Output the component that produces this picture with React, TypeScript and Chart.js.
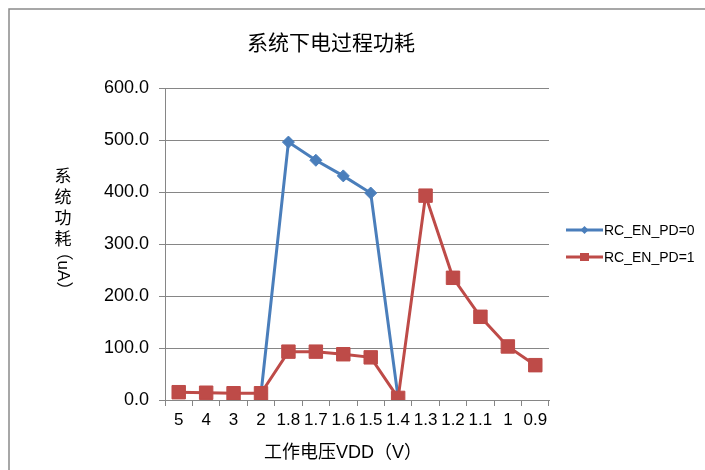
import React, { useEffect, useRef } from "react";
import { Chart, registerables } from "chart.js";

Chart.register(...registerables);

const categories = ["5", "4", "3", "2", "1.8", "1.7", "1.6", "1.5", "1.4", "1.3", "1.2", "1.1", "1", "0.9"];
const seriesPD0: (number | null)[] = [null, null, null, 12, 496, 461, 431, 398, 4, null, null, null, null, null];
const seriesPD1: number[] = [15, 14, 13, 13, 93, 93, 88, 82, 4, 393, 235, 160, 103, 67];
const seriesNames = ["RC_EN_PD=0", "RC_EN_PD=1"];
const chartTitle = "系统下电过程功耗";
const yTitleUpright = "系统功耗";
const yTitleRotated = "（uA）";
const xTitle = "工作电压VDD（V）";

const BLUE = "#4A7EBB";
const RED = "#BE4B48";
const LATIN = "'Liberation Sans', Arial, sans-serif";
const MIXED = "'Liberation Sans', 'Noto Sans CJK SC', sans-serif";
const CJK = "'Noto Sans CJK SC', sans-serif";

export default function App() {
  const ref = useRef<HTMLCanvasElement | null>(null);

  useEffect(() => {
    document.body.style.margin = "0";
    const canvas = ref.current;
    if (!canvas) return;

    const decor = {
      id: "decor",
      afterDraw(chart: any) {
        const ctx = chart.ctx as CanvasRenderingContext2D;
        ctx.save();
        // outer frame
        ctx.strokeStyle = "#8a8a8a";
        ctx.lineWidth = 1.5;
        ctx.beginPath();
        ctx.moveTo(9, 480);
        ctx.lineTo(9, 9);
        ctx.lineTo(720, 9);
        ctx.stroke();
        // title
        ctx.fillStyle = "#000";
        ctx.textAlign = "center";
        ctx.textBaseline = "middle";
        ctx.font = "21px " + CJK;
        ctx.fillText(chartTitle, 331, 42);
        // x title
        ctx.font = "18px " + MIXED;
        ctx.fillText(xTitle, 343, 453);
        // y title, vertical
        ctx.font = "17px " + CJK;
        let y = 176;
        for (const ch of yTitleUpright) {
          ctx.fillText(ch, 63, y);
          y += 21;
        }
        ctx.save();
        ctx.translate(63, 271);
        ctx.rotate(Math.PI / 2);
        ctx.font = "17px " + MIXED;
        ctx.fillText(yTitleRotated, 0, 0);
        ctx.restore();
        // legend
        ctx.font = "14px " + LATIN;
        ctx.textAlign = "left";
        const items = [
          { name: seriesNames[0], color: BLUE, y: 230, style: "rectRot" },
          { name: seriesNames[1], color: RED, y: 257, style: "rect" },
        ];
        for (const it of items) {
          ctx.strokeStyle = it.color;
          ctx.lineWidth = 3;
          ctx.beginPath();
          ctx.moveTo(566, it.y);
          ctx.lineTo(603, it.y);
          ctx.stroke();
          ctx.fillStyle = it.color;
          if (it.style === "rect") {
            ctx.fillRect(580, it.y - 4, 9, 8);
          } else {
            ctx.beginPath();
            ctx.moveTo(584.5, it.y - 4);
            ctx.lineTo(588.5, it.y);
            ctx.lineTo(584.5, it.y + 4);
            ctx.lineTo(580.5, it.y);
            ctx.closePath();
            ctx.fill();
          }
          ctx.fillStyle = "#000";
          ctx.fillText(it.name, 604, it.y + 1);
        }
        ctx.restore();
      },
    };

    const chart = new Chart(canvas, {
      type: "line",
      data: {
        labels: categories,
        datasets: [
          {
            label: seriesNames[0],
            data: seriesPD0,
            borderColor: BLUE,
            backgroundColor: BLUE,
            borderWidth: 3,
            pointStyle: "rectRot",
            pointRadius: 6,
            pointBorderWidth: 1,
            tension: 0,
            spanGaps: false,
            order: 1,
          },
          {
            label: seriesNames[1],
            data: seriesPD1,
            borderColor: RED,
            backgroundColor: RED,
            borderWidth: 3,
            pointStyle: "rect",
            pointRadius: 9.5,
            pointBorderWidth: 1,
            tension: 0,
            order: 0,
          },
        ],
      },
      options: {
        responsive: false,
        animation: false,
        devicePixelRatio: 1,
        layout: { padding: { left: 0, right: 156, top: 88, bottom: 0 } },
        plugins: {
          legend: { display: false },
          title: { display: false },
          tooltip: { enabled: false },
        },
        scales: {
          x: {
            offset: true,
            grid: {
              display: true,
              offset: true,
              drawOnChartArea: false,
              drawTicks: true,
              tickLength: 6,
              color: "#868686",
            },
            border: { display: true, color: "#868686", width: 1 },
            ticks: {
              color: "#000",
              font: { family: LATIN, size: 17 },
              maxRotation: 0,
              minRotation: 0,
              autoSkip: false,
              padding: 4,
            },
            afterFit(scale: any) {
              scale.height = 70;
            },
          },
          y: {
            min: 0,
            max: 600,
            ticks: {
              stepSize: 100,
              color: "#000",
              font: { family: LATIN, size: 18 },
              padding: 10,
              callback: (v: any) => Number(v).toFixed(1),
            },
            grid: {
              color: "#868686",
              tickLength: 6,
              drawTicks: true,
            },
            border: { display: true, color: "#868686", width: 1 },
            afterFit(scale: any) {
              scale.width = 165;
            },
          },
        },
      },
      plugins: [decor],
    });

    return () => chart.destroy();
  }, []);

  return <canvas ref={ref} width={705} height={470} style={{ display: "block" }} />;
}
